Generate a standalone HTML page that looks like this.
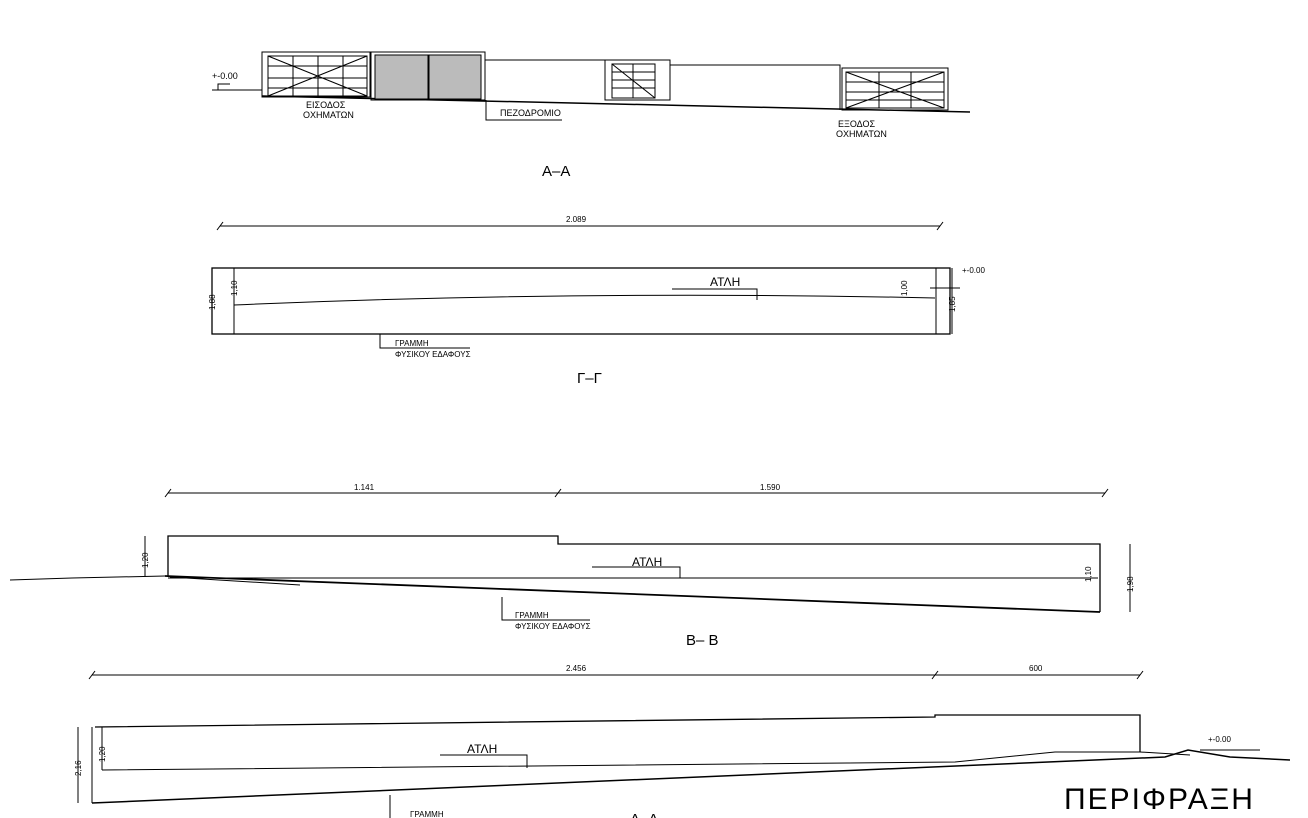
<!DOCTYPE html>
<html><head><meta charset="utf-8"><style>
html,body{margin:0;padding:0;background:#fff;}
svg{display:block}
text{font-family:"Liberation Sans","DejaVu Sans",sans-serif;fill:#000}
</style></head><body>
<svg width="1308" height="818" viewBox="0 0 1308 818" xmlns="http://www.w3.org/2000/svg">
<g stroke="#000" fill="none" stroke-width="1">
<!-- A-A elevation -->
<line x1="262" y1="96" x2="970" y2="112" stroke-width="1.5"/>
<rect x="262" y="52" width="108" height="45"/>
<rect x="268" y="56" width="99" height="40"/>
<line x1="268" y1="56" x2="367" y2="96"/><line x1="367" y1="56" x2="268" y2="96"/>
<line x1="318" y1="56" x2="318" y2="96"/><line x1="293" y1="56" x2="293" y2="96"/><line x1="343" y1="56" x2="343" y2="96"/>
<line x1="268" y1="66" x2="367" y2="66"/><line x1="268" y1="78" x2="367" y2="78"/><line x1="268" y1="88" x2="367" y2="88"/>
<rect x="371" y="52" width="114" height="48"/>
<rect x="375" y="55" width="53" height="44" fill="#bbb"/>
<rect x="429" y="55" width="52" height="44" fill="#bbb"/>
<polyline points="485,60 605,60 605,100"/>
<rect x="605" y="60" width="65" height="40"/>
<rect x="612" y="64" width="43" height="34"/>
<line x1="612" y1="64" x2="655" y2="98"/><line x1="633" y1="64" x2="633" y2="98"/>
<line x1="612" y1="72" x2="655" y2="72"/><line x1="612" y1="80" x2="655" y2="80"/><line x1="612" y1="88" x2="655" y2="88"/>
<polyline points="670,65 840,65 840,110"/>
<rect x="842" y="68" width="106" height="42"/>
<rect x="846" y="72" width="98" height="36"/>
<line x1="846" y1="72" x2="944" y2="108"/><line x1="944" y1="72" x2="846" y2="108"/>
<line x1="879" y1="72" x2="879" y2="108"/><line x1="911" y1="72" x2="911" y2="108"/>
<line x1="846" y1="82" x2="944" y2="82"/><line x1="846" y1="92" x2="944" y2="92"/><line x1="846" y1="100" x2="944" y2="100"/>
<line x1="212" y1="90" x2="262" y2="90"/><polyline points="218,90 218,84 230,84"/>
<polyline points="486,100 486,120 562,120"/>
<!-- Γ-Γ -->
<line x1="220" y1="226" x2="940" y2="226"/>
<line x1="217" y1="230" x2="223" y2="222"/><line x1="937" y1="230" x2="943" y2="222"/>
<rect x="212" y="268" width="738" height="66" stroke-width="1.3"/>
<line x1="234" y1="268" x2="234" y2="334"/><line x1="936" y1="268" x2="936" y2="334"/>
<path d="M234,305 Q580,290 935,298"/>
<polyline points="672,289 757,289 757,300"/>
<line x1="952" y1="268" x2="952" y2="334"/><line x1="930" y1="288" x2="960" y2="288"/>
<polyline points="380,334 380,348 470,348"/>
<!-- Β-Β -->
<line x1="168" y1="493" x2="1105" y2="493"/>
<line x1="165" y1="497" x2="171" y2="489"/><line x1="555" y1="497" x2="561" y2="489"/><line x1="1102" y1="497" x2="1108" y2="489"/>
<polyline points="168,577 168,536 558,536 558,544 1100,544 1100,612" stroke-width="1.3"/>
<line x1="168" y1="578" x2="1098" y2="578"/>
<polyline points="10,580 72,578 165,576" />
<line x1="165" y1="576" x2="1100" y2="612" stroke-width="1.8"/>
<line x1="170" y1="577" x2="300" y2="585"/>
<line x1="145" y1="536" x2="145" y2="577"/>
<line x1="1130" y1="544" x2="1130" y2="612"/>
<polyline points="592,567 680,567 680,578"/>
<polyline points="502,597 502,620 590,620"/>
<!-- Δ-Δ -->
<line x1="92" y1="675" x2="1140" y2="675"/>
<line x1="89" y1="679" x2="95" y2="671"/><line x1="932" y1="679" x2="938" y2="671"/><line x1="1137" y1="679" x2="1143" y2="671"/>
<polyline points="95,727 935,717 935,715 1140,715 1140,752" stroke-width="1.3"/>
<polyline points="102,770 955,762 1055,752 1140,752 1190,755"/>
<polyline points="92,803 1165,757 1188,750 1230,757 1290,760" stroke-width="1.5"/>
<line x1="92" y1="727" x2="92" y2="803"/>
<line x1="102" y1="727" x2="102" y2="770"/>
<line x1="78" y1="727" x2="78" y2="803"/>
<polyline points="440,755 527,755 527,768"/>
<line x1="1200" y1="750" x2="1260" y2="750"/>
<line x1="390" y1="795" x2="390" y2="818"/>
</g>
<g font-size="9">
<text x="212" y="79">+-0.00</text>
<text x="306" y="108">ΕΙΣΟΔΟΣ</text><text x="303" y="118">ΟΧΗΜΑΤΩΝ</text>
<text x="500" y="116">ΠΕΖΟΔΡΟΜΙΟ</text>
<text x="838" y="127">ΕΞΟΔΟΣ</text><text x="836" y="137">ΟΧΗΜΑΤΩΝ</text>
<text x="566" y="222" font-size="8">2.089</text>
<text x="962" y="273" font-size="8">+-0.00</text>
<text x="395" y="346" font-size="8">ΓΡΑΜΜΗ</text><text x="395" y="357" font-size="8">ΦΥΣΙΚΟΥ ΕΔΑΦΟΥΣ</text>
<text x="354" y="490" font-size="8">1.141</text>
<text x="760" y="490" font-size="8">1.590</text>
<text x="515" y="618" font-size="8">ΓΡΑΜΜΗ</text><text x="515" y="629" font-size="8">ΦΥΣΙΚΟΥ ΕΔΑΦΟΥΣ</text>
<text x="566" y="671" font-size="8">2.456</text>
<text x="1029" y="671" font-size="8">600</text>
<text x="1208" y="742" font-size="8">+-0.00</text>
<text x="410" y="817" font-size="8">ΓΡΑΜΜΗ</text>
</g>
<g font-size="8">
<text transform="translate(215,310) rotate(-90)">1,88</text>
<text transform="translate(237,296) rotate(-90)">1,10</text>
<text transform="translate(907,296) rotate(-90)">1,00</text>
<text transform="translate(955,312) rotate(-90)">1,85</text>
<text transform="translate(148,568) rotate(-90)">1,20</text>
<text transform="translate(1091,582) rotate(-90)">1,10</text>
<text transform="translate(1133,592) rotate(-90)">1,98</text>
<text transform="translate(81,776) rotate(-90)">2,16</text>
<text transform="translate(105,762) rotate(-90)">1,20</text>
</g>
<g font-size="12">
<text x="710" y="286">ΑΤΛΗ</text>
<text x="632" y="566">ΑΤΛΗ</text>
<text x="467" y="753">ΑΤΛΗ</text>
</g>
<g font-size="15">
<text x="542" y="176">Α–Α</text>
<text x="577" y="383">Γ–Γ</text>
<text x="686" y="645">Β– Β</text>
<text x="630" y="824">Δ–Δ</text>
</g>
<text x="1064" y="809" font-size="30" style="font-weight:300;letter-spacing:2px" fill="#222">ΠΕΡΙΦΡΑΞΗ</text>
</svg>
</body></html>
